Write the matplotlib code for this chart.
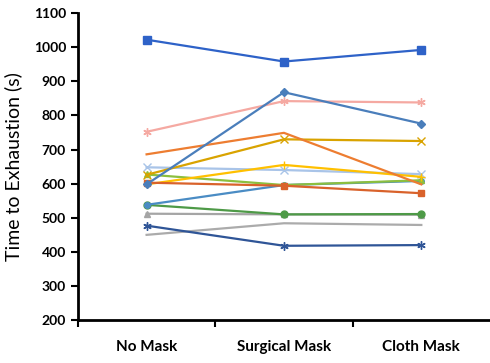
import numpy as np
import matplotlib.pyplot as plt

conditions = ['No Mask', 'Surgical Mask', 'Cloth Mask']

# time to exhaustion (s) per participant
p1 = [1022, 958, 992]
p2 = [598, 868, 776]
p3 = [752, 842, 838]
p4 = [686, 749, 598]
p5 = [603, 594, 572]
p6 = [626, 730, 725]
p7 = [598, 655, 620]
p8 = [648, 640, 628]
p9 = [627, 596, 610]
p10 = [538, 596, 608]
p11 = [538, 510, 511]
p12 = [512, 510, 509]
p13 = [477, 418, 420]
p14 = [450, 484, 479]

series = [p14, p13, p12, p11, p10, p9, p8, p7, p6, p5, p4, p3, p2, p1]
colors = ['#ABABAB', '#2F5597', '#A5A5A5', '#4E9A47', '#4A8CC4', '#8CBF3F',
          '#A9C4E8', '#FFC000', '#D9A300', '#D9622B', '#ED7D31', '#F5A9A2',
          '#4A7EBB', '#2E62C8']
markers = ['None', (6, 2, 0), '^', 'o', 'o', '^', 'x', '+', 'x', 's', 'None',
           (6, 2, 0), 'D', 's']
sizes = [5, 6, 5, 5, 4, 5, 6, 6, 6, 5, 5, 6, 4, 5.5]

plt.rcParams['font.family'] = ['Lato', 'DejaVu Sans']
fig = plt.figure(figsize=(4.9, 3.63), dpi=100)
ax = fig.add_axes([0.159, 0.118, 0.841, 0.846])

x = np.arange(len(conditions))
for vals, c, m, ms in zip(series, colors, markers, sizes):
    ax.plot(x, vals, color=c, lw=1.6, marker=m, ms=ms, mew=1.0,
            mfc=c, mec=c)

ax.set_xlim(-0.5, 2.5)
ax.set_ylim(200, 1100)
ax.set_yticks(range(200, 1101, 100))
ax.set_xticks(x)
ax.set_xticklabels(conditions, fontsize=11, fontweight='bold')
ax.set_xticks([-0.5, 0.5, 1.5], minor=True)
ax.tick_params(axis='x', which='major', length=0, pad=14)
ax.tick_params(axis='x', which='minor', length=5, width=1.5, direction='out')
ax.tick_params(axis='y', length=5, width=1.5, direction='out', labelsize=10)
for lab in ax.get_yticklabels():
    lab.set_fontweight('bold')
ax.set_ylabel('Time to Exhaustion (s)', fontsize=14, labelpad=8)

for s in ['top', 'right']:
    ax.spines[s].set_visible(False)
for s in ['left', 'bottom']:
    ax.spines[s].set_linewidth(2)

plt.savefig('out.png', dpi=100)
